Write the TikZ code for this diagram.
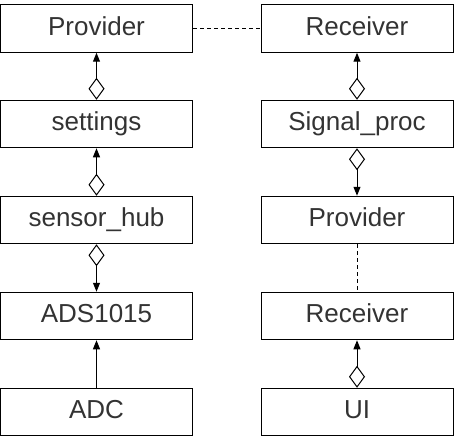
\documentclass[tikz,border=0pt]{standalone}
\usepackage{fontspec}
\setmainfont{Liberation Sans}
\usetikzlibrary{arrows.meta}
\definecolor{txt}{HTML}{333333}
\begin{document}
\begin{tikzpicture}[x=1pt,y=-1pt,
  box/.style={draw,line width=1pt,minimum width=192pt,minimum height=47.5pt,inner sep=0pt,text height=19pt,text depth=5.5pt,text=txt,font=\fontsize{26}{30}\selectfont},
  agg/.style={line width=1pt,{Diamond[open,length=22pt,width=16pt,line width=1pt]}-{Triangle[length=9pt,width=7pt]}},
  dep/.style={line width=1pt,-{Triangle[length=9pt,width=7pt]}},
  lnk/.style={line width=1pt,dash pattern=on 4pt off 3pt}]
\useasboundingbox (0,0) rectangle (454,441);
\node[box] (prov) at (96.5,28.5) {Provider};
\node[box] (sett) at (96.5,124) {settings};
\node[box] (hub) at (96.5,220) {sensor\_hub};
\node[box] (ads) at (96.5,316) {ADS1015};
\node[box] (adc) at (96.5,412) {ADC};
\node[box] (recv) at (357,28.5) {Receiver};
\node[box] (sig) at (357,124) {Signal\_proc};
\node[box] (prov2) at (357,220) {Provider};
\node[box] (recv2) at (357,316) {Receiver};
\node[box] (ui) at (357,412) {UI};
\draw[lnk] (prov) -- (recv);
\draw[agg] (sett) -- (prov);
\draw[agg] (hub) -- (sett);
\draw[agg] (hub) -- (ads);
\draw[dep] (adc) -- (ads);
\draw[agg] (sig) -- (recv);
\draw[agg] (sig) -- (prov2);
\draw[lnk] (prov2) -- (recv2);
\draw[agg] (ui) -- (recv2);
\end{tikzpicture}
\end{document}
